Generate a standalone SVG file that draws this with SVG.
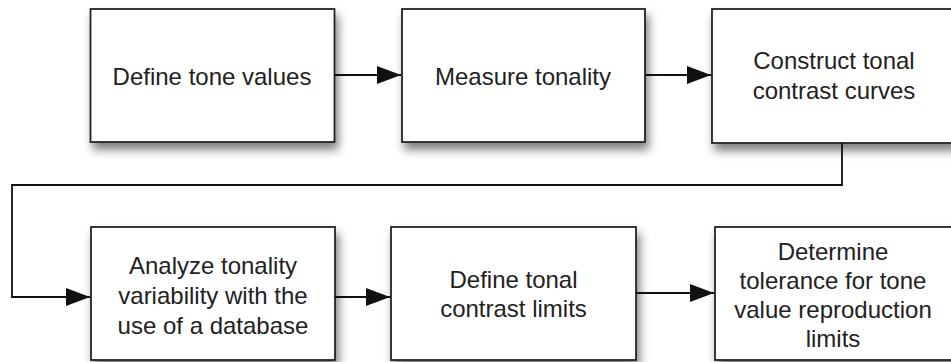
<svg xmlns="http://www.w3.org/2000/svg" width="951" height="362" viewBox="0 0 951 362">
<style>
.box{fill:#fff;stroke:#222;stroke-width:1.8;filter:url(#sh)}
.t{font-family:"Liberation Sans",Arial,sans-serif;font-size:24px;fill:#222;text-anchor:middle}
.c{fill:none;stroke:#111;stroke-width:1.8}
</style>
<defs>
<filter id="sh" x="-10%" y="-10%" width="130%" height="140%">
<feDropShadow dx="3" dy="7" stdDeviation="5" flood-color="#000" flood-opacity="0.5"/>
</filter>
<marker id="ah" markerUnits="userSpaceOnUse" markerWidth="25" markerHeight="19" refX="24" refY="9" orient="auto">
<path d="M0,0 L24,9 L0,18 Z" fill="#111"/>
</marker>
</defs>
<rect width="951" height="362" fill="#fff"/>
<g id="n1"><rect class="box" x="90.5" y="9" width="244" height="133"/><text class="t" x="212" y="85">Define tone values</text></g>
<g id="n2"><rect class="box" x="402" y="9" width="243" height="133"/><text class="t" x="523" y="85">Measure tonality</text></g>
<g id="n3"><rect class="box" x="712" y="9" width="244" height="134"/><text class="t" x="834" y="69">Construct tonal</text><text class="t" x="834" y="99">contrast curves</text></g>
<g id="n4"><rect class="box" x="91" y="227" width="244" height="133"/><text class="t" x="213" y="274">Analyze tonality</text><text class="t" x="213" y="304">variability with the</text><text class="t" x="213" y="334">use of a database</text></g>
<g id="n5"><rect class="box" x="391" y="227" width="245" height="133"/><text class="t" x="513.5" y="288">Define tonal</text><text class="t" x="513.5" y="317">contrast limits</text></g>
<g id="n6"><rect class="box" x="715" y="227" width="244" height="133"/><text class="t" x="833" y="260">Determine</text><text class="t" x="833" y="289">tolerance for tone</text><text class="t" x="833" y="318">value reproduction</text><text class="t" x="833" y="347">limits</text></g>
<g id="connectors">
<path class="c" d="M334.5,75 H401" marker-end="url(#ah)"/>
<path class="c" d="M645,75 H711" marker-end="url(#ah)"/>
<path class="c" d="M842,143 V185 H12 V297 H90" marker-end="url(#ah)"/>
<path class="c" d="M335,297 H390" marker-end="url(#ah)"/>
<path class="c" d="M636,293 H714" marker-end="url(#ah)"/>
</g>
</svg>
